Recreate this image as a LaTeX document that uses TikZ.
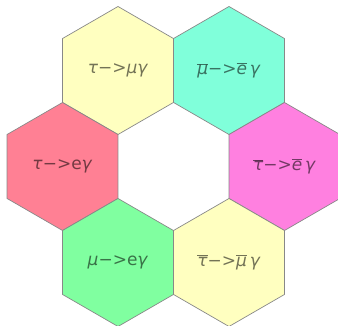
\documentclass[tikz,border=0pt]{standalone}
\usepackage{fontspec}
\setmainfont{DejaVu Sans}
\usetikzlibrary{shapes.geometric}
\definecolor{hyellow}{RGB}{255,255,192}
\definecolor{haqua}{RGB}{128,255,218}
\definecolor{hred}{RGB}{255,128,148}
\definecolor{hmag}{RGB}{255,128,224}
\definecolor{hgreen}{RGB}{128,255,160}
\definecolor{hborder}{RGB}{136,136,136}
\newcommand{\ob}[1]{\ensuremath{\overline{\hbox{\itshape #1}}}}
\begin{document}
\begin{tikzpicture}[x=1pt,y=1pt,
  hexcell/.style={regular polygon, regular polygon sides=6, regular polygon rotate=30,
    minimum size=128pt, inner sep=0pt, outer sep=0pt, draw=hborder, line width=0.7pt,
    font=\fontsize{17}{20}\selectfont, text=black, text opacity=0.55}]
\useasboundingbox (0,0) rectangle (338,326);
\node[hexcell, fill=hyellow] (tmu) at (118,255.5) {\textit{τ}−>\textit{μγ}};
\node[hexcell, fill=haqua] (mubar) at (229,255.5) {\ob{μ}−>\ob{e}\,\textit{γ}};
\node[hexcell, fill=hred] (te) at (62.5,159.5) {\textit{τ}−>e\textit{γ}};
\node[hexcell, fill=hmag] (taubar) at (284.5,159.5) {\ob{τ}−>\ob{e}\,\textit{γ}};
\node[hexcell, fill=hgreen] (mue) at (118,63.5) {\textit{μ}−>e\textit{γ}};
\node[hexcell, fill=hyellow] (taumu) at (229,63.5) {\ob{τ}−>\ob{μ}\,\textit{γ}};
\end{tikzpicture}
\end{document}
